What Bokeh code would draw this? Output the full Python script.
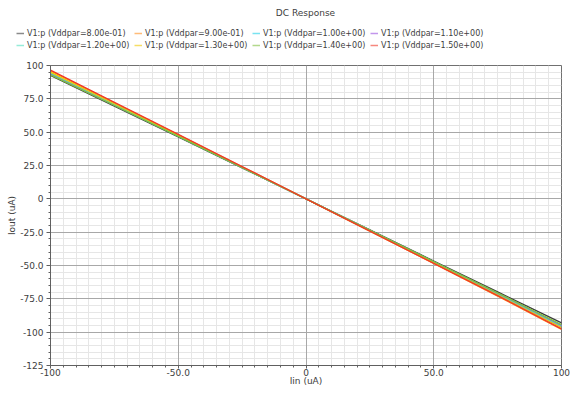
from bokeh.plotting import figure
from bokeh.models import FixedTicker, Legend, LegendItem, Label, Range1d, Grid
from bokeh.embed import file_html
from bokeh.resources import INLINE

# ---- data ----
iin = [-100, -75, -50, -25, 0, 25, 50, 75, 100]
labels = [
    "V1:p (Vddpar=8.00e-01)", "V1:p (Vddpar=9.00e-01)",
    "V1:p (Vddpar=1.00e+00)", "V1:p (Vddpar=1.10e+00)",
    "V1:p (Vddpar=1.20e+00)", "V1:p (Vddpar=1.30e+00)",
    "V1:p (Vddpar=1.40e+00)", "V1:p (Vddpar=1.50e+00)",
]
iout_08 = [92.5, 69.5, 46.5, 23.2, 0.0, -23.3, -46.6, -69.8, -93.0]
iout_09 = [96.0, 72.0, 48.0, 24.0, 0.0, -24.2, -48.5, -73.0, -98.0]
iout_10 = [93.5, 70.3, 47.0, 23.5, 0.0, -23.6, -47.3, -71.0, -95.0]
iout_11 = [94.0, 70.6, 47.3, 23.6, 0.0, -23.7, -47.5, -71.4, -95.5]
iout_12 = [94.5, 71.0, 47.5, 23.8, 0.0, -23.8, -47.8, -71.8, -96.0]
iout_13 = [95.0, 71.3, 47.7, 23.9, 0.0, -24.0, -48.0, -72.2, -96.5]
iout_14 = [93.0, 70.0, 46.8, 23.4, 0.0, -23.5, -47.0, -70.5, -94.3]
iout_15 = [96.5, 72.4, 48.3, 24.2, 0.0, -24.2, -48.4, -72.6, -97.5]
series = [iout_08, iout_09, iout_10, iout_11, iout_12, iout_13, iout_14, iout_15]
colors = ["#3c3c3c", "#ff9020", "#20d0e8", "#9a50e0",
          "#50e0c0", "#f0c800", "#80c040", "#f03828"]

x_major = [-100, -50, 0, 50, 100]
x_minor = [v for v in range(-100, 101, 5) if v % 50 != 0]
x_tick_labels = {-100: "-100", -50: "-50.0", 0: "0", 50: "50.0", 100: "100"}
y_major = [-125, -100, -75, -50, -25, 0, 25, 50, 75, 100]
y_minor = [v for v in range(-125, 101, 5) if v % 25 != 0]
y_tick_labels = {-125: "-125", -100: "-100", -75: "-75.0", -50: "-50.0", -25: "-25.0",
                 0: "0", 25: "25.0", 50: "50.0", 75: "75.0", 100: "100"}

FONT = "DejaVu Sans"
TXT = "#404040"

# ---- header: title + legend (its own root, so its frame is not aligned) ----
hdr = figure(width=570, height=57, output_backend="svg", toolbar_location=None,
             x_range=Range1d(0, 1), y_range=Range1d(0, 1),
             x_axis_type=None, y_axis_type=None, min_border=0)
hdr.outline_line_color = None
hdr.grid.visible = False

# legend swatch renderers: data sits outside the header's visible range
hdr_renderers = [hdr.line(x=[5, 6], y=[5, 6], line_color=c, line_width=1.5, line_alpha=0.6)
                 for c in colors]
items = [LegendItem(label=lab, renderers=[r]) for lab, r in zip(labels, hdr_renderers)]
legend = Legend(items=items, ncols=4, orientation="horizontal",
                location=(16, 7), padding=0, margin=0, spacing=2,
                glyph_width=8, glyph_height=10, label_height=10, label_width=105,
                label_standoff=3, label_text_font=FONT, label_text_font_size="8px",
                label_text_color=TXT, background_fill_alpha=0, border_line_alpha=0)
hdr.add_layout(legend)
hdr.add_layout(Label(x=305, y=45, x_units="screen", y_units="screen", text="DC Response",
                     text_align="center", text_baseline="middle", text_font=FONT,
                     text_font_size="9px", text_color=TXT))

# ---- main plot ----
p = figure(width=570, height=338, output_backend="svg", toolbar_location=None,
           x_range=Range1d(-100, 100), y_range=Range1d(-125, 100),
           min_border_left=50, min_border_right=9, min_border_top=8, min_border_bottom=30)
p.background_fill_color = "white"
p.border_fill_color = "white"
p.outline_line_color = "#707070"

xt = FixedTicker(ticks=x_major, minor_ticks=x_minor)
yt = FixedTicker(ticks=y_major, minor_ticks=y_minor)
p.xaxis.ticker = xt
p.yaxis.ticker = yt
# built-in grids: minor lines only (drawn first)
p.xgrid.ticker = xt
p.ygrid.ticker = yt
for g in (p.xgrid, p.ygrid):
    g.grid_line_color = None
    g.minor_grid_line_color = "#e6e6e6"
    g.level = "underlay"
# major grid lines drawn afterwards, on top of all minor lines
for dim, tk in ((0, xt), (1, yt)):
    p.add_layout(Grid(dimension=dim, ticker=tk, grid_line_color="#a8a8a8",
                      minor_grid_line_color=None, level="underlay"))

p.xaxis.major_label_overrides = x_tick_labels
p.yaxis.major_label_overrides = y_tick_labels
for ax in (p.xaxis, p.yaxis):
    ax.axis_line_color = "#606060"
    ax.major_tick_line_color = "#606060"
    ax.minor_tick_line_color = "#606060"
    ax.major_tick_out = 4
    ax.major_tick_in = 0
    ax.minor_tick_out = 2
    ax.minor_tick_in = 0
    ax.major_label_text_font = FONT
    ax.major_label_text_font_size = "9px"
    ax.major_label_text_color = TXT
    ax.axis_label_text_font = FONT
    ax.axis_label_text_font_size = "9px"
    ax.axis_label_text_font_style = "normal"
    ax.axis_label_text_color = TXT
p.xaxis.major_tick_out = 3
p.xaxis.major_label_standoff = 0
p.yaxis.major_label_standoff = 3
p.xaxis.axis_label = "Iin (uA)"
p.yaxis.axis_label = "Iout (uA)"
p.xaxis.axis_label_standoff = -3
p.yaxis.axis_label_standoff = 0

for ys, c in zip(series, colors):
    p.line(iin, ys, line_color=c, line_width=1.3)

open("out.html", "w").write(file_html([hdr, p], INLINE))
